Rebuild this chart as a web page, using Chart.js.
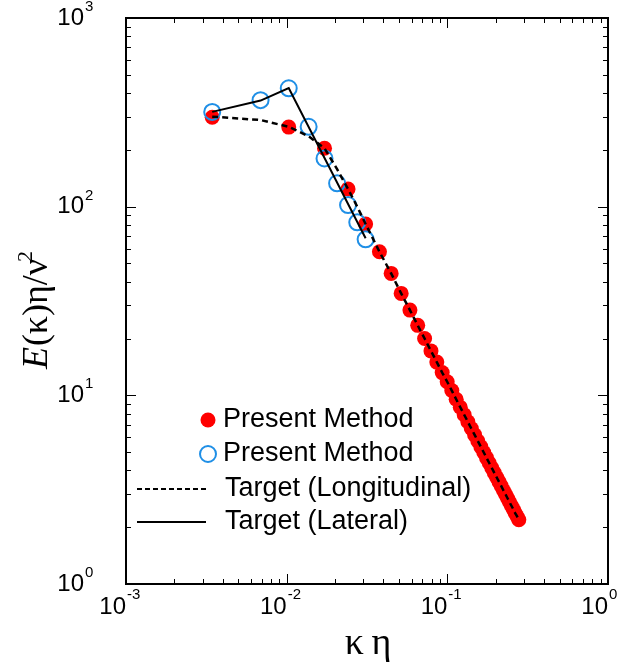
<!DOCTYPE html>
<html>
<head>
<meta charset="utf-8">
<script src="https://cdn.jsdelivr.net/npm/chart.js@4.4.1/dist/chart.umd.min.js"></script>
<style>
  body { margin: 0; background: #fff; }
  #myChart { display: block; }
</style>
</head>
<body>
<canvas id="myChart" width="626" height="668"></canvas>
<script>
// present method, longitudinal (filled red)
var redK = [0.00344, 0.0103, 0.0172, 0.0241, 0.0310, 0.0378, 0.0447, 0.0516, 0.0585, 0.0654,
            0.0722, 0.0791, 0.0860, 0.0929, 0.0998, 0.1066, 0.1135, 0.1204, 0.1273, 0.1342,
            0.1410, 0.1479, 0.1548, 0.1617, 0.1686, 0.1754, 0.1823, 0.1892, 0.1961, 0.2030,
            0.2098, 0.2167, 0.2236, 0.2305, 0.2374, 0.2442, 0.2511, 0.2580, 0.2649, 0.2718, 0.2786];
var redE = [298, 264, 204, 124, 81, 57.7, 44.3, 34.7, 28.3, 23.5,
            20.0, 17.2, 15.0, 13.2, 11.8, 10.6, 9.53, 8.65, 7.89, 7.24,
            6.67, 6.17, 5.73, 5.33, 4.98, 4.66, 4.38, 4.12, 3.88, 3.67,
            3.48, 3.30, 3.13, 2.98, 2.84, 2.71, 2.59, 2.48, 2.37, 2.28, 2.19];

// present method, lateral (open blue)
var blueK = [0.00344, 0.00688, 0.0103, 0.0137, 0.0172, 0.0206, 0.0241, 0.0275, 0.0310];
var blueE = [318, 367, 424, 265, 180, 133, 102, 82.6, 67.1];

// target curves
var longK = [0.00344, 0.00688, 0.0103, 0.0137, 0.0172, 0.0206, 0.0241, 0.0275, 0.0310].concat(redK.slice(5));
var longE = [300, 288, 265, 236, 204, 158, 124, 100, 81].concat(redE.slice(5));
var latK = [0.00344, 0.00688, 0.0103, 0.0310];
var latE = [318, 365, 425, 68];

var xTicks = [0.001, 0.01, 0.1, 1];
var xTickExp = ['-3', '-2', '-1', '0'];
var yTicks = [1, 10, 100, 1000];
var yTickExp = ['0', '1', '2', '3'];

var legendItems = ['Present Method', 'Present Method', 'Target (Longitudinal)', 'Target (Lateral)'];

function pts(xs, ys) {
    var out = [];
    for (var i = 0; i < xs.length; i++) out.push({x: xs[i], y: ys[i]});
    return out;
}

var sans = '"Liberation Sans", Arial, sans-serif';
var serif = '"Liberation Serif", "Times New Roman", serif';

var decor = {
    id: 'decor',
    afterDraw: function (chart) {
        var ctx = chart.ctx;
        var a = chart.chartArea;
        var xs = chart.scales.x, ys = chart.scales.y;
        ctx.save();
        ctx.strokeStyle = '#000';
        ctx.fillStyle = '#000';

        // frame
        ctx.lineWidth = 2;
        ctx.strokeRect(a.left, a.top, a.right - a.left, a.bottom - a.top);

        // inward ticks on all sides
        ctx.lineWidth = 1;
        ctx.beginPath();
        for (var d = -3; d <= 0; d++) {
            for (var m = 1; m <= 9; m++) {
                var v = m * Math.pow(10, d);
                if (v > 1.0001) break;
                var len = m === 1 ? 10 : 5;
                var px = Math.round(xs.getPixelForValue(v)) + 0.5;
                ctx.moveTo(px, a.bottom); ctx.lineTo(px, a.bottom - len);
                ctx.moveTo(px, a.top); ctx.lineTo(px, a.top + len);
            }
        }
        for (var d2 = 0; d2 <= 3; d2++) {
            for (var m2 = 1; m2 <= 9; m2++) {
                var v2 = m2 * Math.pow(10, d2);
                if (v2 > 1000.01) break;
                var len2 = m2 === 1 ? 10 : 5;
                var py = Math.round(ys.getPixelForValue(v2)) + 0.5;
                ctx.moveTo(a.left, py); ctx.lineTo(a.left + len2, py);
                ctx.moveTo(a.right, py); ctx.lineTo(a.right - len2, py);
            }
        }
        ctx.stroke();

        // tick labels 10^n
        ctx.textBaseline = 'middle';
        for (var i = 0; i < xTicks.length; i++) {
            var tx = xs.getPixelForValue(xTicks[i]);
            ctx.font = '24px ' + sans;
            ctx.textAlign = 'right';
            ctx.fillText('10', tx, 607);
            ctx.font = '15px ' + sans;
            ctx.textAlign = 'left';
            ctx.fillText(xTickExp[i], tx + 1, 595);
        }
        for (var j = 0; j < yTicks.length; j++) {
            var ty = ys.getPixelForValue(yTicks[j]);
            ctx.font = '24px ' + sans;
            ctx.textAlign = 'right';
            ctx.fillText('10', 84, ty);
            ctx.font = '15px ' + sans;
            ctx.textAlign = 'left';
            ctx.fillText(yTickExp[j], 85, ty - 11);
        }

        // x title
        ctx.font = '38px ' + serif;
        ctx.textAlign = 'center';
        ctx.fillText('\u03BA\u2009\u03B7', 368, 644);

        // y title, rotated, E italic and ν squared
        ctx.save();
        ctx.translate(36, 309);
        ctx.rotate(-Math.PI / 2);
        ctx.textAlign = 'left';
        ctx.textBaseline = 'alphabetic';
        var f1 = 'italic 36px ' + serif, f2 = '36px ' + serif, f3 = '22px ' + serif;
        ctx.font = f1; var w1 = ctx.measureText('E').width;
        ctx.font = f2; var w2 = ctx.measureText('(\u03BA)\u03B7/\u03BD').width;
        ctx.font = f3; var w3 = ctx.measureText('2').width;
        var x0 = -(w1 + w2 + w3) / 2;
        ctx.font = f1; ctx.fillText('E', x0, 11);
        ctx.font = f2; ctx.fillText('(\u03BA)\u03B7/\u03BD', x0 + w1 + 1, 11);
        ctx.font = f3; ctx.fillText('2', x0 + w1 + w2 - 2, -4);
        ctx.restore();

        // legend
        var rows = [420, 454, 489, 522];
        ctx.font = '27px ' + sans;
        ctx.textAlign = 'left';
        ctx.textBaseline = 'middle';
        ctx.fillStyle = '#ff0000';
        ctx.beginPath(); ctx.arc(208, rows[0], 7.5, 0, Math.PI * 2); ctx.fill();
        ctx.strokeStyle = '#1f8fe6'; ctx.lineWidth = 2;
        ctx.beginPath(); ctx.arc(208, rows[1], 8, 0, Math.PI * 2); ctx.stroke();
        ctx.strokeStyle = '#000';
        ctx.lineWidth = 2;
        ctx.setLineDash([5, 3]);
        ctx.beginPath(); ctx.moveTo(137, rows[2]); ctx.lineTo(206, rows[2]); ctx.stroke();
        ctx.setLineDash([]);
        ctx.beginPath(); ctx.moveTo(137, rows[3]); ctx.lineTo(206, rows[3]); ctx.stroke();
        ctx.fillStyle = '#000';
        ctx.fillText(legendItems[0], 223, rows[0]);
        ctx.fillText(legendItems[1], 223, rows[1]);
        ctx.fillText(legendItems[2], 225, rows[2]);
        ctx.fillText(legendItems[3], 225, rows[3]);
        ctx.restore();
    }
};

var ctx = document.getElementById('myChart');

new Chart(ctx, {
    type: 'scatter',
    data: {
        datasets: [{
            label: 'Target (Lateral)',
            data: pts(latK, latE),
            showLine: true,
            borderColor: '#000',
            borderWidth: 2,
            pointRadius: 0
        }, {
            label: 'Target (Longitudinal)',
            data: pts(longK, longE),
            showLine: true,
            borderColor: '#000',
            borderWidth: 2.5,
            borderDash: [6, 4],
            pointRadius: 0
        }, {
            label: 'Present Method',
            data: pts(blueK, blueE),
            pointStyle: 'circle',
            pointRadius: 8,
            pointBorderWidth: 2,
            pointBackgroundColor: 'rgba(0,0,0,0)',
            pointBorderColor: '#1f8fe6'
        }, {
            label: 'Present Method',
            data: pts(redK, redE),
            pointStyle: 'circle',
            pointRadius: 7.5,
            pointBorderWidth: 0,
            pointBackgroundColor: '#ff0000',
            pointBorderColor: '#ff0000'
        }]
    },
    options: {
        responsive: false,
        animation: false,
        layout: { padding: { left: 126, right: 18, top: 18, bottom: 84 } },
        plugins: { legend: { display: false }, tooltip: { enabled: false } },
        scales: {
            x: {
                type: 'logarithmic', min: 0.001, max: 1,
                ticks: { display: false },
                grid: { display: false },
                border: { display: false },
                afterFit: function (s) { s.height = 0; }
            },
            y: {
                type: 'logarithmic', min: 1, max: 1000,
                ticks: { display: false },
                grid: { display: false },
                border: { display: false },
                afterFit: function (s) { s.width = 0; }
            }
        }
    },
    plugins: [decor]
});
</script>
</body>
</html>
